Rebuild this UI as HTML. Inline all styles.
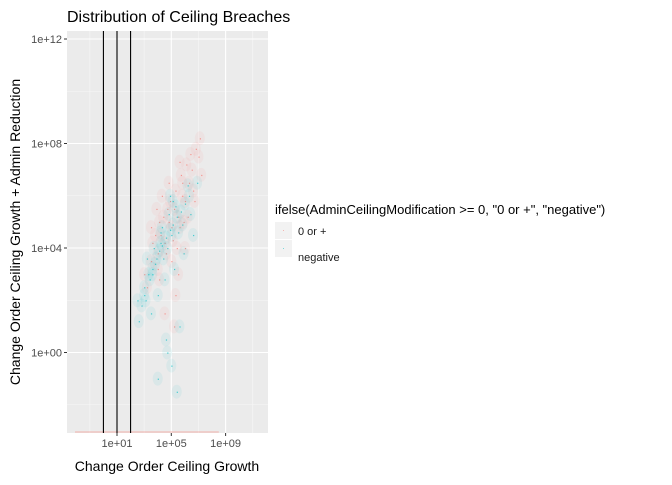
<!DOCTYPE html>
<html><head><meta charset="utf-8"><style>
body{margin:0;background:#fff;font-family:"Liberation Sans",sans-serif}
svg text{font-family:"Liberation Sans",sans-serif}
</style></head><body>
<svg id="c" width="672" height="480" xmlns="http://www.w3.org/2000/svg">
<text x="67" y="22" font-size="16" fill="#000">Distribution of Ceiling Breaches</text>
<rect x="67" y="31" width="201" height="402" fill="#ebebeb"/>
<g id="grid"></g>
<g id="pts"></g>
<g id="vl"></g>
<g id="axes"></g>
<text x="167" y="471" font-size="14" text-anchor="middle" fill="#000">Change Order Ceiling Growth</text>
<text transform="translate(20,232) rotate(-90)" font-size="14" text-anchor="middle" fill="#000">Change Order Ceiling Growth + Admin Reduction</text>
<g>
<text x="275" y="214" font-size="13" fill="#000">ifelse(AdminCeilingModification &gt;= 0, "0 or +", "negative")</text>
<rect x="275" y="222" width="17" height="17" fill="#f2f2f2"/>
<rect x="283" y="230" width="1" height="1" fill="#f8766d" opacity="0.5"/>
<text x="298" y="235" font-size="11" fill="#1a1a1a">0 or +</text>
<rect x="275" y="240" width="17" height="17" fill="#f2f2f2"/>
<rect x="283" y="248" width="1" height="1" fill="#00bfc4" opacity="0.5"/>
<text x="298" y="261" font-size="11" fill="#1a1a1a">negative</text>
</g>
</svg>
<script>
const xTickLabels=["1e+01","1e+05","1e+09"];
const xTickVals=[1,5,9];
const yTickLabels=["1e+00","1e+04","1e+08","1e+12"];
const yTickVals=[0,4,8,12];
const vlineVals=[0,1,2];
// log10 x, log10 y
const posX=[3,3.5,4,4.2,4.5,4.8,5,5.2,5.5,5.8,6,6.3,6.5,3.8,4.4,4.9,5.3,5.7,6.1,6.6,7,4,4.6,5.1,5.6,6.2,3.2,3.6,4.1,4.7,5.4,5.9,6.8,7.2,4.3,5,5.5,6,4.5,5.2,3.5,4.8,5.6,6.4,7.1,4.1,5.3,6.7,3.9,5.8];
const posY=[3,3.5,3.8,4.5,4.2,5,4.8,5.5,5.2,6,5.8,6.5,7,4.5,5.2,5.8,6.2,6.8,7.2,6.2,7.5,3.2,3.8,4.3,4.8,5.2,2.5,4.2,5,5.5,4,5,7.8,6.8,6,3.5,3,4,1.5,1,4.8,6.5,7.3,7.6,8.2,2.8,2.2,5.8,5.5,6.5];
const negX=[2.5,3,3.3,3.6,3.9,4.1,4.3,4.6,4.9,5.1,5.4,5.7,6,6.3,2.8,3.4,3.8,4.2,4.7,5,5.3,5.8,6.4,6.9,3.1,3.7,4.4,4.8,5.5,6.2,2.6,3.5,4,4.5,5.2,5.9,4,4.6,5,5.6,3.2,4.3,5.1,6.6,3,4.7,5.4,4.9,3.6,4.2];
const negY=[2,2.5,3,3.2,3.6,3.9,4.1,4.4,4.7,4.9,5.2,5.4,5.7,6,1.8,2.8,3.4,4.6,4,4.5,5.6,4.9,5.3,6.5,2,4,3.6,5.3,4.6,6.4,1.2,1.5,2.2,2.8,3.2,3.8,-1,0.5,-0.5,1,3.6,4.8,5.8,4.5,2.2,0,-1.5,6,3,4.2];
const NS='http://www.w3.org/2000/svg';
const L=67,R=268,T=31,B=433;
const sx=v=>117+(v-1)*54.3/4;
const sy=v=>248-(v-4)*104.5/4;
function mk(tag,at,parent){const e=document.createElementNS(NS,tag);for(const k in at)e.setAttribute(k,at[k]);document.getElementById(parent).appendChild(e);return e;}
for(let i=0;i<5;i++){const v=-2+i*4;const y=sy(v);if(y>T&&y<B){const l=mk('line',{x1:L,x2:R,y1:y,y2:y,stroke:'#f7f7f7','stroke-width':0.6},'grid');}}
for(let i=0;i<5;i++){const v=xTickVals[0]-6+i*4;const x=sx(v);if(x>L&&x<R){const l=mk('line',{x1:x,x2:x,y1:T,y2:B,stroke:'#f7f7f7','stroke-width':0.6},'grid');}}
yTickVals.forEach((v,i)=>{const y=sy(v);
const g=mk('line',{x1:L,x2:R,y1:y,y2:y,stroke:'#fff','stroke-width':1.1},'grid');

const t=mk('line',{x1:L-3,x2:L,y1:y,y2:y,stroke:'#333'},'axes');

const tx=mk('text',{x:L-5,y:y+4,'font-size':11,'text-anchor':'end',fill:'#4d4d4d'},'axes');tx.textContent=yTickLabels[i];
});
xTickVals.forEach((v,i)=>{const x=sx(v);
const g=mk('line',{x1:x,x2:x,y1:T,y2:B,stroke:'#fff','stroke-width':1.1},'grid');

const t=mk('line',{x1:x,x2:x,y1:B,y2:B+3,stroke:'#333'},'axes');

const tx=mk('text',{x:x,y:B+14,'font-size':11,'text-anchor':'middle',fill:'#4d4d4d'},'axes');tx.textContent=xTickLabels[i];
});
const strip=mk('line',{x1:L+8,x2:sx(8.5),y1:B-1,y2:B-1,stroke:'#f8766d','stroke-width':1,opacity:0.5},'pts');

function drawPts(xs,ys,col,name){xs.forEach((v,i)=>{
const c=mk('ellipse',{cx:sx(v),cy:sy(ys[i]),rx:5,ry:7,fill:col,opacity:0.07},'pts');

const p=mk('rect',{x:sx(v),y:sy(ys[i]),width:1.2,height:1.2,fill:col,opacity:0.7},'pts');
});}
drawPts(posX,posY,'#f8766d','positive');
drawPts(negX,negY,'#00bfc4','negative');
vlineVals.forEach(v=>{const x=sx(v);const l=mk('line',{x1:x,x2:x,y1:T,y2:B,stroke:'#000','stroke-width':1.1},'vl');
});
</script>
</body></html>
